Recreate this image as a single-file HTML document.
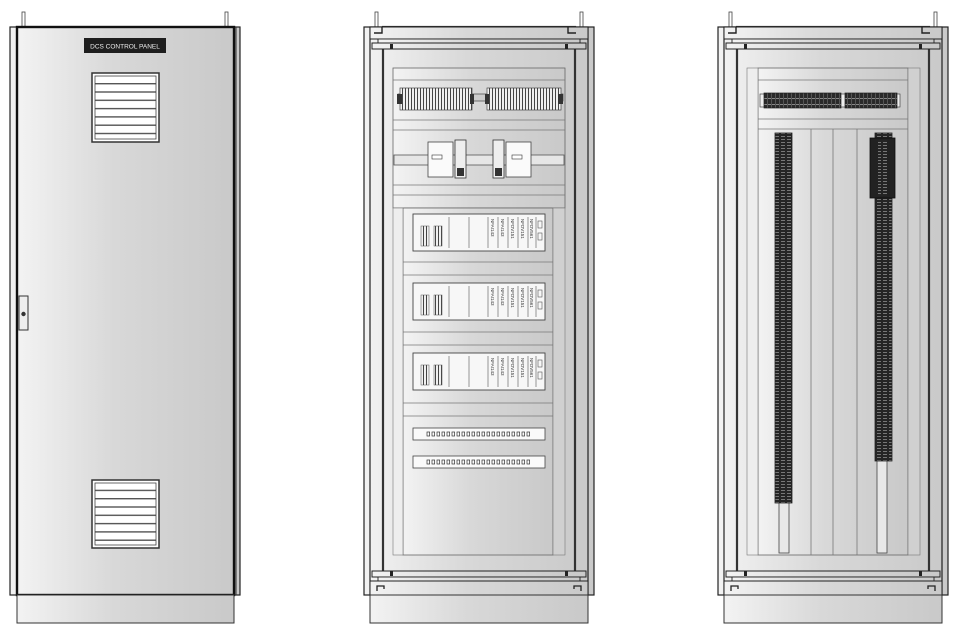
<!DOCTYPE html>
<html><head><meta charset="utf-8"><style>
html,body{margin:0;padding:0;background:#fff;}
svg{display:block;}
text{font-family:"Liberation Sans",sans-serif;}
</style></head><body>
<svg width="970" height="643" viewBox="0 0 970 643" xmlns="http://www.w3.org/2000/svg">
<defs>
<linearGradient id="g" x1="0" x2="1" y1="0" y2="0"><stop offset="0" stop-color="#f3f3f3"/><stop offset="0.45" stop-color="#d8d8d8"/><stop offset="1" stop-color="#c9c9c9"/></linearGradient>
<pattern id="term" width="4" height="6" patternUnits="userSpaceOnUse"><rect width="4" height="6" fill="#2a2a2a"/><rect x="0" y="2" width="3" height="1" fill="#888"/><rect x="3" y="0" width="1" height="6" fill="#555"/></pattern>
<pattern id="vterm" width="6" height="3" patternUnits="userSpaceOnUse"><rect width="6" height="3" fill="#252525"/><rect x="1" y="1" width="4" height="1" fill="#777"/></pattern>
<pattern id="hterm" width="3" height="6" patternUnits="userSpaceOnUse"><rect width="3" height="6" fill="#f0f0f0"/><rect x="0" y="0" width="1" height="6" fill="#444"/></pattern>
<pattern id="louver" width="10" height="8.3" patternUnits="userSpaceOnUse"><rect width="10" height="8.3" fill="#fff"/><rect y="0" width="10" height="1.4" fill="#555"/></pattern>

<g id="frame">
 <rect x="11" y="12" width="3" height="15" fill="#fff" stroke="#444" stroke-width="0.8"/>
 <rect x="216" y="12" width="3" height="15" fill="#fff" stroke="#444" stroke-width="0.8"/>
 <rect x="0" y="27" width="230" height="568" fill="url(#g)" stroke="#222" stroke-width="1.2"/>
 <rect x="6" y="27" width="218" height="568" fill="none" stroke="#222" stroke-width="1.2"/>
 <rect x="19" y="27" width="192" height="568" fill="none" stroke="#333" stroke-width="2.2"/>
 <rect x="6" y="27" width="218" height="12" fill="url(#g)" stroke="#222" stroke-width="1"/>
 <path d="M10 33h8v-6M212 33h-8v-6" fill="none" stroke="#222" stroke-width="1.4"/>
 <rect x="14" y="39" width="202" height="4" fill="url(#g)" stroke="#222" stroke-width="0.9"/>
 <rect x="8" y="43" width="214" height="6" fill="url(#g)" stroke="#222" stroke-width="1"/>
 <rect x="26" y="44" width="3" height="5" fill="#222"/><rect x="201" y="44" width="3" height="5" fill="#222"/>
 <rect x="8" y="571" width="214" height="6" fill="url(#g)" stroke="#222" stroke-width="1"/>
 <rect x="26" y="571" width="3" height="5" fill="#222"/><rect x="201" y="571" width="3" height="5" fill="#222"/>
 <rect x="14" y="577" width="202" height="4" fill="url(#g)" stroke="#222" stroke-width="0.9"/>
 <rect x="6" y="581" width="218" height="14" fill="url(#g)" stroke="#222" stroke-width="1"/>
 <path d="M13 591v-5h7v3M217 591v-5h-7v3" fill="none" stroke="#222" stroke-width="1.3"/>
 <rect x="6" y="595" width="218" height="28" fill="url(#g)" stroke="#333" stroke-width="1"/>
</g>
<g id="dotrow" fill="none" stroke="#333" stroke-width="0.7">
 <rect x="427" y="0" width="2.6" height="4"/><rect x="432" y="0" width="2.6" height="4"/><rect x="437" y="0" width="2.6" height="4"/><rect x="442" y="0" width="2.6" height="4"/><rect x="447" y="0" width="2.6" height="4"/><rect x="452" y="0" width="2.6" height="4"/><rect x="457" y="0" width="2.6" height="4"/><rect x="462" y="0" width="2.6" height="4"/><rect x="467" y="0" width="2.6" height="4"/><rect x="472" y="0" width="2.6" height="4"/><rect x="477" y="0" width="2.6" height="4"/><rect x="482" y="0" width="2.6" height="4"/><rect x="487" y="0" width="2.6" height="4"/><rect x="492" y="0" width="2.6" height="4"/><rect x="497" y="0" width="2.6" height="4"/><rect x="502" y="0" width="2.6" height="4"/><rect x="507" y="0" width="2.6" height="4"/><rect x="512" y="0" width="2.6" height="4"/><rect x="517" y="0" width="2.6" height="4"/><rect x="522" y="0" width="2.6" height="4"/><rect x="527" y="0" width="2.6" height="4"/>
</g>
</defs>

<!-- Cabinet 1 -->
<rect x="22" y="12" width="3" height="15" fill="#fff" stroke="#444" stroke-width="0.8"/>
<rect x="225" y="12" width="3" height="15" fill="#fff" stroke="#444" stroke-width="0.8"/>
<rect x="10" y="27" width="230" height="568" fill="url(#g)" stroke="#222" stroke-width="1.2"/>
<rect x="17" y="27" width="217" height="568" fill="url(#g)" stroke="#111" stroke-width="2.4"/>
<line x1="236" y1="27" x2="236" y2="595" stroke="#333" stroke-width="1"/>
<rect x="17" y="595" width="217" height="28" fill="url(#g)" stroke="#333" stroke-width="1"/>
<rect x="84" y="38" width="82" height="15" fill="#1e1e1e"/>
<text x="125" y="48.5" font-size="6.5" fill="#eee" text-anchor="middle">DCS CONTROL PANEL</text>
<rect x="92" y="73" width="67" height="69" fill="#fff" stroke="#333" stroke-width="1.5"/>
<rect x="95" y="76" width="61" height="63" fill="url(#louver)" stroke="#444" stroke-width="0.8"/>
<rect x="92" y="480" width="67" height="68" fill="#fff" stroke="#333" stroke-width="1.5"/>
<rect x="95" y="483" width="61" height="62" fill="url(#louver)" stroke="#444" stroke-width="0.8"/>
<rect x="19" y="296" width="9" height="34" fill="#eee" stroke="#333" stroke-width="1"/>
<circle cx="23.5" cy="314" r="2.2" fill="#333"/>

<!-- Cabinet 2 -->
<use href="#frame" x="364"/>
<rect x="393" y="68" width="172" height="140" fill="url(#g)" stroke="#666" stroke-width="0.8"/>
<rect x="403" y="208" width="150" height="347" fill="url(#g)" stroke="#666" stroke-width="0.8"/>
<rect x="393" y="208" width="10" height="347" fill="#eee" stroke="#777" stroke-width="0.6"/>
<rect x="553" y="208" width="12" height="347" fill="#d0d0d0" stroke="#777" stroke-width="0.6"/>
<g stroke="#777" stroke-width="0.8">
 <line x1="393" y1="80" x2="565" y2="80"/><line x1="393" y1="120" x2="565" y2="120"/>
 <line x1="393" y1="130" x2="565" y2="130"/><line x1="393" y1="185" x2="565" y2="185"/><line x1="393" y1="195" x2="565" y2="195"/>
 <line x1="403" y1="262" x2="553" y2="262"/><line x1="403" y1="275" x2="553" y2="275"/>
 <line x1="403" y1="332" x2="553" y2="332"/><line x1="403" y1="345" x2="553" y2="345"/>
 <line x1="403" y1="403" x2="553" y2="403"/><line x1="403" y1="416" x2="553" y2="416"/>
</g>
<rect x="398" y="94" width="165" height="7" fill="#ccc" stroke="#444" stroke-width="0.7"/>
<rect x="400" y="88" width="72" height="22" fill="url(#hterm)" stroke="#444" stroke-width="0.7"/>
<rect x="487" y="88" width="74" height="22" fill="url(#hterm)" stroke="#444" stroke-width="0.7"/>
<rect x="397" y="94" width="5" height="10" fill="#333"/><rect x="470" y="94" width="4" height="10" fill="#333"/>
<rect x="485" y="94" width="4" height="10" fill="#333"/><rect x="558" y="94" width="5" height="10" fill="#333"/>
<rect x="394" y="155" width="170" height="10" fill="#e6e6e6" stroke="#555" stroke-width="0.8"/>
<rect x="428" y="142" width="25" height="35" fill="#fafafa" stroke="#444" stroke-width="0.8"/>
<rect x="432" y="155" width="10" height="4" fill="#fff" stroke="#333" stroke-width="0.6"/>
<rect x="455" y="140" width="11" height="38" fill="#eee" stroke="#333" stroke-width="0.8"/>
<rect x="457" y="168" width="7" height="8" fill="#333"/>
<rect x="493" y="140" width="11" height="38" fill="#eee" stroke="#333" stroke-width="0.8"/>
<rect x="495" y="168" width="7" height="8" fill="#333"/>
<rect x="506" y="142" width="25" height="35" fill="#fafafa" stroke="#444" stroke-width="0.8"/>
<rect x="512" y="155" width="10" height="4" fill="#fff" stroke="#333" stroke-width="0.6"/>
<g id="mod">
 <rect x="413" y="214" width="132" height="37" fill="#f7f7f7" stroke="#444" stroke-width="0.9"/>
 <rect x="421" y="226" width="8" height="20" fill="url(#hterm)" stroke="#555" stroke-width="0.5"/>
 <rect x="434" y="226" width="8" height="20" fill="url(#hterm)" stroke="#555" stroke-width="0.5"/>
 <g stroke="#555" stroke-width="0.6" fill="none">
  <line x1="449" y1="217" x2="449" y2="248"/><line x1="469" y1="217" x2="469" y2="248"/><line x1="488" y1="217" x2="488" y2="248"/>
  <line x1="498" y1="217" x2="498" y2="248"/><line x1="508" y1="217" x2="508" y2="248"/><line x1="518" y1="217" x2="518" y2="248"/><line x1="528" y1="217" x2="528" y2="248"/><line x1="536" y1="217" x2="536" y2="248"/>
  <rect x="538" y="221" width="4" height="7"/><rect x="538" y="233" width="4" height="7"/>
 </g>
 <g font-size="4.5" fill="#333">
  <text transform="translate(491,219) rotate(90)">NFAI143</text>
  <text transform="translate(501,219) rotate(90)">NFAI143</text>
  <text transform="translate(511,219) rotate(90)">NFDV151</text>
  <text transform="translate(521,219) rotate(90)">NFDV151</text>
  <text transform="translate(530,219) rotate(90)">NFDV561</text>
 </g>
</g>
<use href="#mod" y="69"/>
<use href="#mod" y="139"/>
<rect x="413" y="428" width="132" height="12" fill="#fafafa" stroke="#444" stroke-width="0.8"/>
<use href="#dotrow" y="432"/>
<rect x="413" y="456" width="132" height="12" fill="#fafafa" stroke="#444" stroke-width="0.8"/>
<use href="#dotrow" y="460"/>

<!-- Cabinet 3 -->
<use href="#frame" x="718"/>
<rect x="758" y="68" width="150" height="487" fill="url(#g)" stroke="#666" stroke-width="0.8"/>
<rect x="747" y="68" width="11" height="487" fill="#eee" stroke="#777" stroke-width="0.6"/>
<rect x="908" y="68" width="12" height="487" fill="#d0d0d0" stroke="#777" stroke-width="0.6"/>
<g stroke="#777" stroke-width="0.8">
 <line x1="758" y1="80" x2="908" y2="80"/><line x1="758" y1="119" x2="908" y2="119"/><line x1="758" y1="129" x2="908" y2="129"/>
 <line x1="811" y1="129" x2="811" y2="555"/><line x1="833" y1="129" x2="833" y2="555"/><line x1="857" y1="129" x2="857" y2="555"/>
</g>
<rect x="760" y="94" width="140" height="13" fill="#eee" stroke="#444" stroke-width="0.7"/>
<rect x="764" y="93" width="77" height="15" fill="url(#term)" stroke="#222" stroke-width="0.7"/>
<rect x="845" y="93" width="52" height="15" fill="url(#term)" stroke="#222" stroke-width="0.7"/>
<rect x="779" y="490" width="10" height="63" fill="#e8e8e8" stroke="#444" stroke-width="0.8"/>
<rect x="775" y="133" width="17" height="370" fill="url(#vterm)" stroke="#222" stroke-width="0.8"/>
<rect x="877" y="455" width="10" height="98" fill="#e8e8e8" stroke="#444" stroke-width="0.8"/>
<rect x="875" y="133" width="17" height="328" fill="url(#vterm)" stroke="#222" stroke-width="0.8"/>
<rect x="870" y="138" width="25" height="60" fill="#222" stroke="#111" stroke-width="0.8"/>
<rect x="878" y="140" width="9" height="56" fill="url(#vterm)"/>
</svg>
</body></html>
